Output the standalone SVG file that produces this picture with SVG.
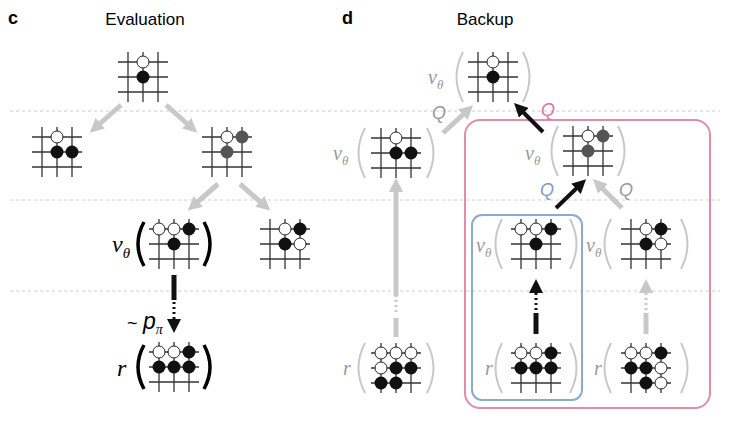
<svg xmlns="http://www.w3.org/2000/svg" width="730" height="424" viewBox="0 0 730 424">
<style>
.g line{stroke:#333;stroke-width:1.3}
.w{fill:#fff;stroke:#222;stroke-width:1}
.b{fill:#111}
.d{fill:#555}
.t{font-family:"Liberation Sans",Arial,sans-serif}
.v{font-family:"Liberation Serif",serif;font-style:italic}
.pg{fill:none;stroke:#c8c8c8;stroke-width:2}
.pb{fill:none;stroke:#000;stroke-width:3.5}
.dash{stroke:#ccc;stroke-width:1;stroke-dasharray:3 3}
</style>
<defs>
<g id="grid" class="g">
<line x1="-25" y1="-15" x2="25" y2="-15"/><line x1="-25" y1="0" x2="25" y2="0"/><line x1="-25" y1="15" x2="25" y2="15"/>
<line x1="-15" y1="-25" x2="-15" y2="25"/><line x1="0" y1="-25" x2="0" y2="25"/><line x1="15" y1="-25" x2="15" y2="25"/>
</g>
<marker id="ag" viewBox="0 0 10 10" refX="5" refY="5" markerWidth="14" markerHeight="14" markerUnits="userSpaceOnUse" orient="auto"><path d="M0,0L10,5L0,10z" fill="#c8c8c8"/></marker>
<marker id="ab" viewBox="0 0 10 10" refX="5" refY="5" markerWidth="14" markerHeight="14" markerUnits="userSpaceOnUse" orient="auto"><path d="M0,0L10,5L0,10z" fill="#111"/></marker>
</defs>
<g id="guides">
<line class="dash" x1="10" y1="111" x2="720" y2="111"/>
<line class="dash" x1="10" y1="200" x2="720" y2="200"/>
<line class="dash" x1="10" y1="291" x2="720" y2="291"/>
</g>
<text class="t" x="8" y="24" font-size="18" font-weight="bold">c</text>
<text class="t" x="145" y="25" font-size="17" text-anchor="middle">Evaluation</text>
<text class="t" x="342" y="24" font-size="18" font-weight="bold">d</text>
<text class="t" x="485" y="25" font-size="17" text-anchor="middle">Backup</text>

<rect id="pinkbox" x="465" y="120" width="245" height="288" rx="15" fill="none" stroke="#e58aaa" stroke-width="2"/>
<rect id="bluebox" x="472" y="215" width="110" height="185" rx="10" fill="none" stroke="#8aaad4" stroke-width="2"/>

<g id="connectors">
<line x1="121" y1="105" x2="95" y2="128" stroke="#c8c8c8" stroke-width="5" marker-end="url(#ag)"/>
<line x1="166" y1="105" x2="192" y2="128" stroke="#c8c8c8" stroke-width="5" marker-end="url(#ag)"/>
<line x1="218" y1="184" x2="193" y2="206" stroke="#c8c8c8" stroke-width="5" marker-end="url(#ag)"/>
<line x1="240" y1="184" x2="265" y2="206" stroke="#c8c8c8" stroke-width="5" marker-end="url(#ag)"/>
<line x1="174" y1="275" x2="174" y2="300" stroke="#111" stroke-width="5"/>
<line x1="174" y1="302" x2="174" y2="322" stroke="#111" stroke-width="3" stroke-dasharray="2 3"/>
<line x1="174" y1="322" x2="174" y2="326" stroke="#111" stroke-width="3" marker-end="url(#ab)"/>
<line x1="443" y1="133" x2="468" y2="110" stroke="#c8c8c8" stroke-width="5" marker-end="url(#ag)"/>
<line x1="543" y1="132" x2="519" y2="108" stroke="#111" stroke-width="4" marker-end="url(#ab)"/>
<line x1="556" y1="208" x2="581" y2="184" stroke="#111" stroke-width="4" marker-end="url(#ab)"/>
<line x1="622" y1="208" x2="598" y2="184" stroke="#c8c8c8" stroke-width="5" marker-end="url(#ag)"/>
<line x1="396" y1="337" x2="396" y2="318" stroke="#c8c8c8" stroke-width="5"/>
<line x1="396" y1="312" x2="396" y2="296" stroke="#c8c8c8" stroke-width="3" stroke-dasharray="2 3"/>
<line x1="396" y1="296" x2="396" y2="185" stroke="#c8c8c8" stroke-width="5" marker-end="url(#ag)"/>
<line x1="536" y1="334" x2="536" y2="313" stroke="#111" stroke-width="5"/>
<line x1="536" y1="310" x2="536" y2="292" stroke="#111" stroke-width="3" stroke-dasharray="2 3"/>
<line x1="536" y1="290" x2="536" y2="286" stroke="#111" stroke-width="3" marker-end="url(#ab)"/>
<line x1="646" y1="334" x2="646" y2="313" stroke="#c8c8c8" stroke-width="5"/>
<line x1="646" y1="310" x2="646" y2="292" stroke="#c8c8c8" stroke-width="3" stroke-dasharray="2 3"/>
<line x1="646" y1="290" x2="646" y2="286" stroke="#c8c8c8" stroke-width="3" marker-end="url(#ag)"/>
</g>
<text class="t" x="127" y="329" font-size="18">~</text>
<text class="t" x="143" y="329" font-size="23" font-style="italic">p<tspan class="v" font-size="14" dy="5">π</tspan></text>
<text class="t" x="432" y="119" font-size="18" font-style="italic" fill="#999">Q</text>
<text class="t" x="541" y="116" font-size="18" font-style="italic" fill="#e070a0">Q</text>
<text class="t" x="540" y="196" font-size="18" font-style="italic" fill="#7a9ccc">Q</text>
<text class="t" x="619" y="196" font-size="18" font-style="italic" fill="#999">Q</text>

<g id="c-root" transform="translate(143,77)"><use href="#grid"/><circle class="w" cx="0" cy="-15" r="6"/><circle class="b" cx="0" cy="0" r="6.5"/></g>
<g id="c-left" transform="translate(57,152)"><use href="#grid"/><circle class="w" cx="0" cy="-15" r="6"/><circle class="b" cx="0" cy="0" r="6.5"/><circle class="b" cx="15" cy="0" r="6.5"/></g>
<g id="c-right" transform="translate(227,152)"><use href="#grid"/><circle class="w" cx="0" cy="-15" r="6"/><circle class="d" cx="15" cy="-15" r="6.5"/><circle class="d" cx="0" cy="0" r="6.5"/></g>
<g id="c-value">
<text class="v" x="112" y="252" font-size="24">ν<tspan font-size="15" dy="6">θ</tspan></text>
<path class="pb" d="M144,222 Q132,244 144,266"/><path class="pb" d="M204,222 Q216,244 204,266"/>
<g transform="translate(174,244)"><use href="#grid"/><circle class="w" cx="-15" cy="-15" r="6"/><circle class="w" cx="0" cy="-15" r="6"/><circle class="b" cx="15" cy="-15" r="6.5"/><circle class="b" cx="0" cy="0" r="6.5"/></g>
</g>
<g id="c-side" transform="translate(285,244)"><use href="#grid"/><circle class="w" cx="0" cy="-15" r="6"/><circle class="b" cx="15" cy="-15" r="6.5"/><circle class="b" cx="0" cy="0" r="6.5"/><circle class="w" cx="15" cy="0" r="6"/></g>
<g id="c-rollout">
<text class="v" x="117" y="376" font-size="24">r</text>
<path class="pb" d="M144,345 Q132,367 144,389"/><path class="pb" d="M204,345 Q216,367 204,389"/>
<g transform="translate(174,367)"><use href="#grid"/><circle class="w" cx="-15" cy="-15" r="6"/><circle class="w" cx="0" cy="-15" r="6"/><circle class="b" cx="15" cy="-15" r="6.5"/><circle class="b" cx="-15" cy="0" r="6.5"/><circle class="b" cx="0" cy="0" r="6.5"/><circle class="b" cx="15" cy="0" r="6.5"/></g>
</g>

<g id="d-root">
<text class="v" x="428" y="84" font-size="20" fill="#999">ν<tspan font-size="13" dy="5">θ</tspan></text>
<path class="pg" d="M463,52 Q450,77 463,102"/><path class="pg" d="M523,52 Q536,77 523,102"/>
<g transform="translate(493,77)"><use href="#grid"/><circle class="w" cx="0" cy="-15" r="6"/><circle class="b" cx="0" cy="0" r="6.5"/></g>
</g>
<g id="d-left">
<text class="v" x="333" y="160" font-size="20" fill="#999">ν<tspan font-size="13" dy="5">θ</tspan></text>
<path class="pg" d="M365,128 Q352,153 365,178"/><path class="pg" d="M427,128 Q440,153 427,178"/>
<g transform="translate(396,153)"><use href="#grid"/><circle class="w" cx="0" cy="-15" r="6"/><circle class="b" cx="0" cy="0" r="6.5"/><circle class="b" cx="15" cy="0" r="6.5"/></g>
</g>
<g id="d-mid">
<text class="v" x="525" y="160" font-size="20" fill="#999">ν<tspan font-size="13" dy="5">θ</tspan></text>
<path class="pg" d="M558,126 Q545,151 558,176"/><path class="pg" d="M618,126 Q631,151 618,176"/>
<g transform="translate(588,151)"><use href="#grid"/><circle class="w" cx="0" cy="-15" r="6"/><circle class="d" cx="15" cy="-15" r="6.5"/><circle class="d" cx="0" cy="0" r="6.5"/></g>
</g>
<g id="d-vblue">
<text class="v" x="476" y="252" font-size="20" fill="#999">ν<tspan font-size="13" dy="5">θ</tspan></text>
<path class="pg" d="M502,219 Q489,244 502,269"/><path class="pg" d="M570,219 Q583,244 570,269"/>
<g transform="translate(536,244)"><use href="#grid"/><circle class="w" cx="-15" cy="-15" r="6"/><circle class="w" cx="0" cy="-15" r="6"/><circle class="b" cx="15" cy="-15" r="6.5"/><circle class="b" cx="0" cy="0" r="6.5"/></g>
</g>
<g id="d-vright">
<text class="v" x="586" y="252" font-size="20" fill="#999">ν<tspan font-size="13" dy="5">θ</tspan></text>
<path class="pg" d="M611,219 Q598,244 611,269"/><path class="pg" d="M681,219 Q694,244 681,269"/>
<g transform="translate(646,244)"><use href="#grid"/><circle class="w" cx="0" cy="-15" r="6"/><circle class="b" cx="15" cy="-15" r="6.5"/><circle class="b" cx="0" cy="0" r="6.5"/><circle class="w" cx="15" cy="0" r="6"/></g>
</g>
<g id="d-r1">
<text class="v" x="343" y="375" font-size="20" fill="#999">r</text>
<path class="pg" d="M365,343 Q352,368 365,393"/><path class="pg" d="M427,343 Q440,368 427,393"/>
<g transform="translate(396,368)"><use href="#grid"/><circle class="w" cx="-15" cy="-15" r="6"/><circle class="w" cx="0" cy="-15" r="6"/><circle class="w" cx="15" cy="-15" r="6"/><circle class="w" cx="-15" cy="0" r="6"/><circle class="b" cx="0" cy="0" r="6.5"/><circle class="b" cx="15" cy="0" r="6.5"/><circle class="b" cx="-15" cy="15" r="6.5"/><circle class="b" cx="0" cy="15" r="6.5"/></g>
</g>
<g id="d-r2">
<text class="v" x="485" y="375" font-size="20" fill="#999">r</text>
<path class="pg" d="M502,343 Q489,368 502,393"/><path class="pg" d="M570,343 Q583,368 570,393"/>
<g transform="translate(536,368)"><use href="#grid"/><circle class="w" cx="-15" cy="-15" r="6"/><circle class="w" cx="0" cy="-15" r="6"/><circle class="b" cx="15" cy="-15" r="6.5"/><circle class="b" cx="-15" cy="0" r="6.5"/><circle class="b" cx="0" cy="0" r="6.5"/><circle class="b" cx="15" cy="0" r="6.5"/></g>
</g>
<g id="d-r3">
<text class="v" x="594" y="375" font-size="20" fill="#999">r</text>
<path class="pg" d="M611,343 Q598,368 611,393"/><path class="pg" d="M681,343 Q694,368 681,393"/>
<g transform="translate(646,368)"><use href="#grid"/><circle class="w" cx="-15" cy="-15" r="6"/><circle class="w" cx="0" cy="-15" r="6"/><circle class="b" cx="15" cy="-15" r="6.5"/><circle class="b" cx="-15" cy="0" r="6.5"/><circle class="b" cx="0" cy="0" r="6.5"/><circle class="w" cx="15" cy="0" r="6"/><circle class="b" cx="0" cy="15" r="6.5"/><circle class="w" cx="15" cy="15" r="6"/></g>
</g>
</svg>
